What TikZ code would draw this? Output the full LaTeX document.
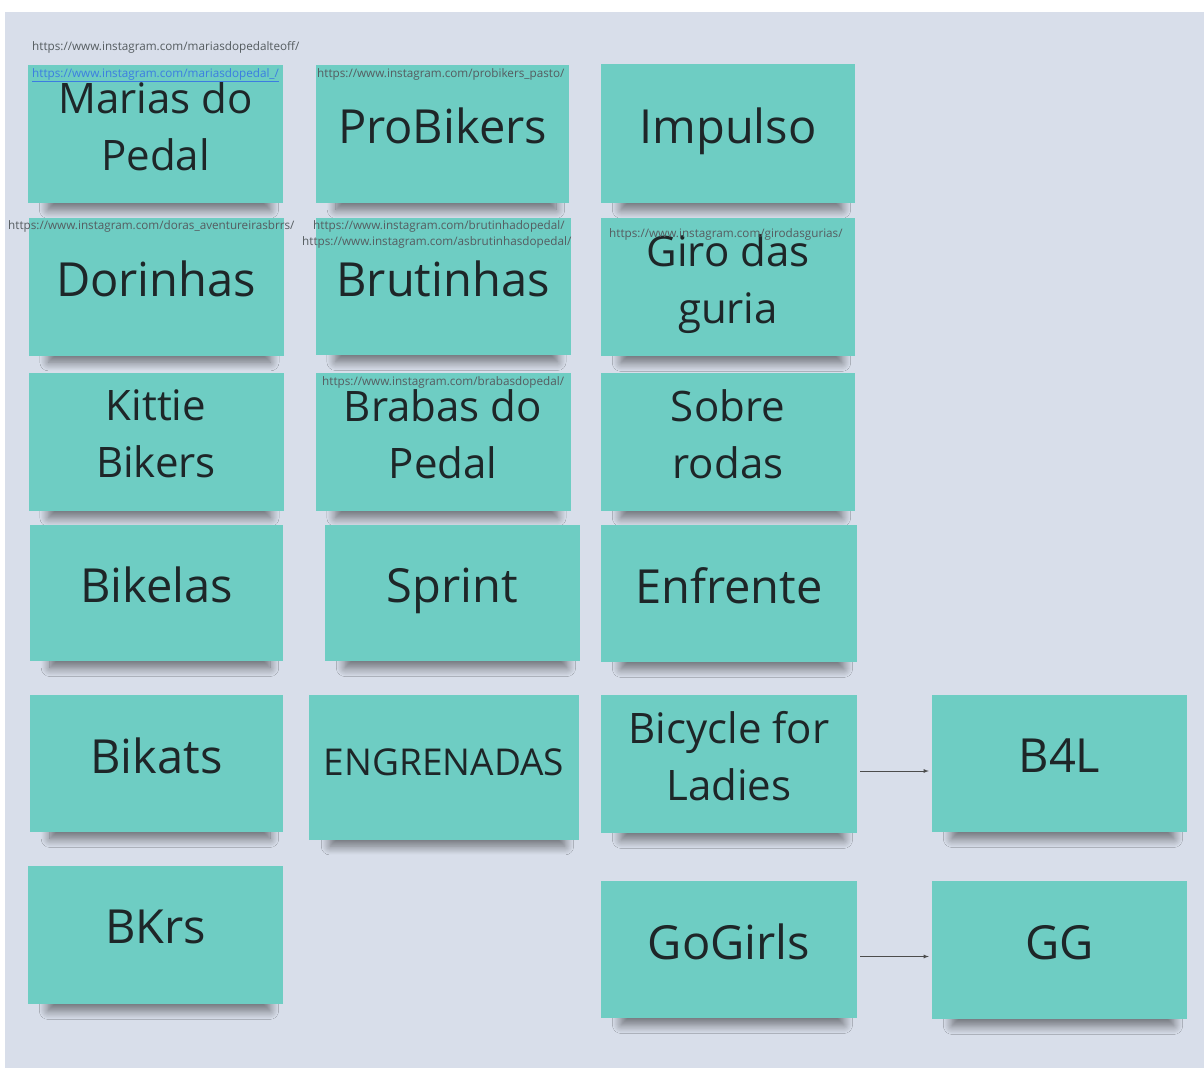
\documentclass[tikz,border=0pt]{standalone}
\usepackage{fontspec}
\setmainfont{Open Sans}
\usetikzlibrary{arrows,shadows.blur}
\definecolor{boardbg}{RGB}{216,222,234}
\definecolor{stickyteal}{RGB}{110,205,195}
\definecolor{notetext}{RGB}{30,38,40}
\definecolor{linkgrey}{RGB}{85,92,96}
\definecolor{linkblue}{RGB}{60,125,225}
\tikzset{
  >=latex,
  note/.style ={fill=stickyteal, inner sep=0, align=center,
                minimum width=255pt, minimum height=138pt,
                text=notetext, font=\fontsize{47}{57}\selectfont,
                text depth=16pt,
                blur shadow={shadow xshift=4pt, shadow yshift=-18pt,
                  shadow scale=0.87, shadow opacity=50,
                  shadow blur radius=10pt, shadow blur steps=12}},
  two line/.style ={font=\fontsize{42}{57}\selectfont},
  link/.style ={anchor=west, inner sep=0, text=linkgrey,
                font=\fontsize{11.7}{13}\selectfont},
  link arrow/.style ={->, draw=black!70, line width=0.8pt},
}
\begin{document}
\begin{tikzpicture}[x=1pt,y=-1pt]
\useasboundingbox (0,0) rectangle (1204,1068);
\fill[boardbg] (5,12) rectangle (1204,1068);

% first column
\node[note,two line] (marias) at (155.5,134) {Marias do\\Pedal};
\node[note] (dorinhas) at (156,286.5) {Dorinhas};
\node[note,two line] (kittie) at (156,442) {Kittie\\Bikers};
\node[note,minimum width=253pt,minimum height=136pt] (bikelas) at (156.5,593) {Bikelas};
\node[note,minimum width=253pt,minimum height=137pt] (bikats) at (156.5,763.5) {Bikats};
\node[note] (bkrs) at (155.5,935) {BKrs};

% second column
\node[note,minimum width=253pt] (probikers) at (442.5,134) {ProBikers};
\node[note,minimum height=137pt] (brutinhas) at (443,286.5) {Brutinhas};
\node[note,two line] (brabas) at (443,442) {Brabas do\\Pedal};
\node[note,minimum height=136pt] (sprint) at (452.5,593) {Sprint};
\node[note,minimum width=270pt,minimum height=145pt,text depth=10pt,
      font=\fontsize{37}{44}\selectfont] (engrenadas) at (444,767.5) {ENGRENADAS};

% third column
\node[note,minimum width=254pt,minimum height=139pt] (impulso) at (728,133.5) {Impulso};
\node[note,two line,minimum width=254pt] (giro) at (728,287) {Giro das\\guria};
\node[note,two line,minimum width=254pt] (sobre) at (728,442) {Sobre\\rodas};
\node[note,minimum width=256pt,minimum height=137pt] (enfrente) at (729,593.5) {Enfrente};
\node[note,two line,minimum width=256pt] (bicycle) at (729,764) {Bicycle for\\Ladies};
\node[note,minimum width=256pt,minimum height=137pt] (gogirls) at (729,949.5) {GoGirls};

% short names
\node[note,minimum width=255pt,minimum height=137pt] (bfourl) at (1059.5,763.5) {B4L};
\node[note] (gg) at (1059.5,950) {GG};

\coordinate (bicycle out) at ([xshift=3pt,yshift=-7pt]bicycle.east);
\coordinate (gogirls out) at ([xshift=3pt,yshift=-7pt]gogirls.east);
\draw[link arrow] (bicycle out) -- ([xshift=-3pt]bicycle out -| bfourl.west);
\draw[link arrow] (gogirls out) -- ([xshift=-3pt]gogirls out -| gg.west);

% instagram links
\node[link] (url marias teoff) at (32,47) {https://www.instagram.com/mariasdopedalteoff/};
\node[link,text=linkblue] (url marias) at (32,75) {\underline{https://www.instagram.com/mariasdopedal\_/}};
\node[link] (url probikers) at (317,74) {https://www.instagram.com/probikers\_pasto/};
\node[link] (url dorinhas) at (8,226) {https://www.instagram.com/doras\_aventureirasbrrs/};
\node[link] (url brutinha) at (313,226) {https://www.instagram.com/brutinhadopedal/};
\node[link] (url brutinhas) at (302,242) {https://www.instagram.com/asbrutinhasdopedal/};
\node[link] (url giro) at (609,234) {https://www.instagram.com/girodasgurias/};
\node[link] (url brabas) at (322,382) {https://www.instagram.com/brabasdopedal/};
\end{tikzpicture}
\end{document}
